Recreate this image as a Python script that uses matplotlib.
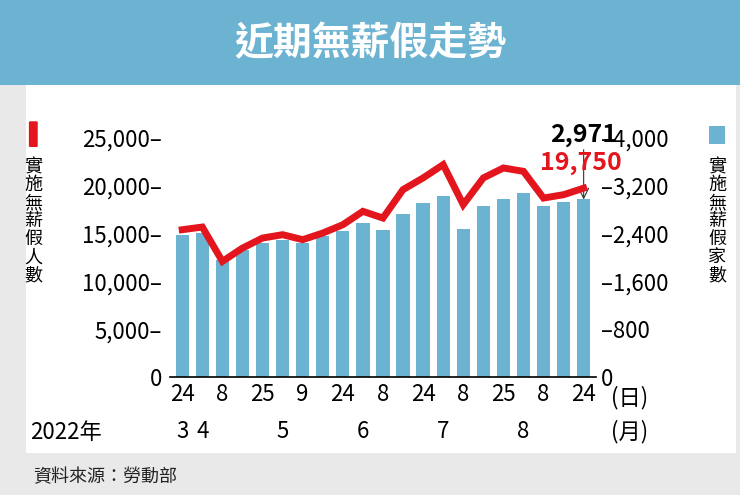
import matplotlib.pyplot as plt
import matplotlib.patches as mpatches

plt.rcParams['font.family'] = ['Noto Sans CJK TC', 'DejaVu Sans']

# 實施無薪假家數 (bars, right axis)
firms = [2382, 2410, 1964, 2130, 2243, 2298, 2243, 2354, 2438, 2577, 2466,
         2728, 2912, 3024, 2477, 2856, 2979, 3080, 2868, 2929, 2971]
# 實施無薪假人數 (line, left axis)
workers = [15410, 15690, 12100, 13490, 14540, 14890, 14370, 15060, 15930, 17330, 16630,
           19600, 20820, 22210, 18030, 20820, 21860, 21510, 18720, 19070, 19750]
day_labels = ['24', '', '8', '', '25', '', '9', '', '24', '', '8', '',
              '24', '', '8', '', '25', '', '8', '', '24']
month_labels = {0: '3', 1: '4', 5: '5', 9: '6', 13: '7', 17: '8'}

blue = '#6cb2d1'
red = '#e3161e'
fs = 16

fig = plt.figure(figsize=(7.4, 4.95), dpi=100)
fig.patch.set_facecolor('#e9e9e9')
# white panel
fig.add_artist(mpatches.Rectangle((0.035, 0.085), 0.96, 0.745, transform=fig.transFigure,
                                  facecolor='white', edgecolor='none', zorder=0))
# title banner
fig.add_artist(mpatches.Rectangle((0, 0.828), 1, 0.172, transform=fig.transFigure,
                                  facecolor=blue, edgecolor='none', zorder=0))
fig.text(0.5, 0.912, '近期無薪假走勢', color='white', fontsize=28, fontweight='bold',
         ha='center', va='center')
fig.text(0.045, 0.035, '資料來源：勞動部', fontsize=13, color='#222222', va='center')

ax = fig.add_axes([0.23, 0.238, 0.575, 0.522])
ax2 = ax.twinx()
x = list(range(len(firms)))
ax2.bar(x, firms, width=0.66, color=blue, zorder=1)
ax2.set_ylim(0, 4000 * 27 / 25)
ax.set_ylim(0, 27000)
ax.set_xlim(-0.6, 20.6)
ax.set_zorder(ax2.get_zorder() + 1)
ax.patch.set_visible(False)
ax.plot(x, workers, color=red, lw=5, solid_joinstyle='miter', zorder=3)

for a in (ax, ax2):
    for s in a.spines.values():
        s.set_visible(False)
ax.spines['bottom'].set_visible(True)
ax.spines['bottom'].set_linewidth(1.2)

ax.set_yticks([0, 5000, 10000, 15000, 20000, 25000])
ax.set_yticklabels(['0', '5,000–', '10,000–', '15,000–', '20,000–', '25,000–'])
ax.tick_params(axis='y', length=0, labelsize=fs, pad=6)
ax2.set_yticks([0, 800, 1600, 2400, 3200, 4000])
ax2.set_yticklabels(['0', '–800', '–1,600', '–2,400', '–3,200', '–4,000'])
ax2.tick_params(axis='y', length=0, labelsize=fs, pad=4)

ax.set_xticks(x)
ax.set_xticklabels(day_labels, fontsize=fs)
ax.tick_params(axis='x', length=0, pad=4)
xt = ax.get_xaxis_transform()
for i, m in month_labels.items():
    ax.text(i, -0.21, m, transform=xt, ha='center', va='center', fontsize=fs)
ax.text(22.3, -0.08, '(日)', transform=xt, ha='center', va='center', fontsize=fs)
ax.text(22.3, -0.21, '(月)', transform=xt, ha='center', va='center', fontsize=fs)
fig.text(0.04, 0.127, '2022年', fontsize=fs, va='center')

# annotations
ax.text(21.9, 22400, '19,750', color=red, fontsize=18, fontweight='bold', ha='right', va='center')
ax2.annotate('2,971', xy=(20, 2971), xytext=(20, 3850), fontsize=18, fontweight='bold',
             ha='center', va='bottom',
             arrowprops=dict(arrowstyle='->', lw=0.8, color='#333333', shrinkA=0, shrinkB=0))

# axis legends
fig.add_artist(mpatches.FancyBboxPatch((0.041, 0.705), 0.008, 0.048, transform=fig.transFigure,
                                       boxstyle='round,pad=0.002', facecolor=red, edgecolor='none'))
fig.text(0.045, 0.68, '\n'.join('實施無薪假人數'), fontsize=13, ha='center', va='top', linespacing=1.0)
fig.add_artist(mpatches.Rectangle((0.958, 0.71), 0.022, 0.035, transform=fig.transFigure,
                                  facecolor=blue, edgecolor='none'))
fig.text(0.969, 0.68, '\n'.join('實施無薪假家數'), fontsize=13, ha='center', va='top', linespacing=1.0)

fig.savefig('out.png', dpi=100)
